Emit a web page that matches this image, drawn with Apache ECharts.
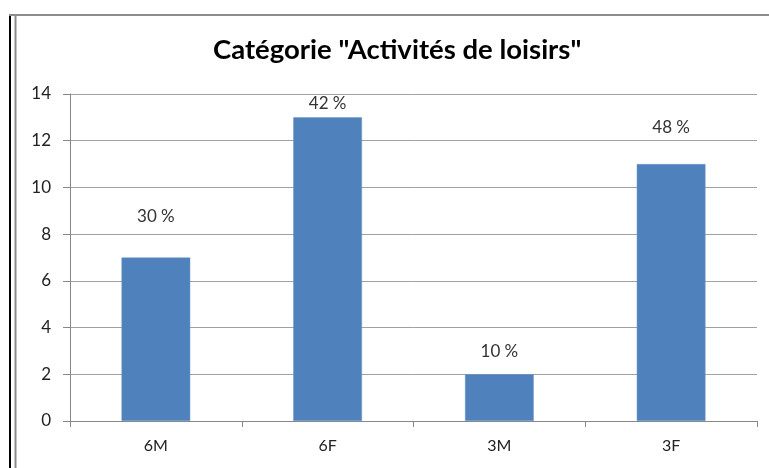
<!DOCTYPE html>
<html>
<head>
<meta charset="utf-8">
<script src="https://cdn.jsdelivr.net/npm/echarts@6/dist/echarts.min.js"></script>
<style>
  html, body { margin: 0; padding: 0; background: #fff; }
  #chart { width: 769px; height: 468px; }
</style>
</head>
<body>
<div id="chart"></div>
<script>
// Groups and number of answers per group
const categories = ['6M', '6F', '3M', '3F'];
const counts = [7, 13, 2, 11];
// Share shown above each bar
const shareLabels = ['30 %', '42 %', '10 %', '48 %'];
// Y axis ticks
const yTicks = [0, 2, 4, 6, 8, 10, 12, 14];

// Gap between each bar top and its label (layout only)
const labelGap = [32, 5, 14, 28];

const FONT = 'Lato, "Open Sans", sans-serif';

const chart = echarts.init(document.getElementById('chart'), null, { renderer: 'canvas' });

chart.setOption({
  animation: false,
  backgroundColor: '#ffffff',
  title: {
    text: 'Catégorie "Activités de loisirs"',
    left: 213,
    top: 36,
    padding: 0,
    textStyle: { fontFamily: FONT, fontWeight: 'bold', fontSize: 27.5, color: '#000' }
  },
  graphic: [
    // frame lines on the left and top
    { type: 'line', shape: { x1: 10, y1: 14, x2: 10, y2: 468 }, style: { stroke: '#000', lineWidth: 2 } },
    { type: 'line', shape: { x1: 15.5, y1: 14, x2: 15.5, y2: 468 }, style: { stroke: '#8c8c8c', lineWidth: 2 } },
    { type: 'line', shape: { x1: 9, y1: 15, x2: 769, y2: 15 }, style: { stroke: '#8c8c8c', lineWidth: 2 } }
  ],
  grid: { left: 70, right: 12, top: 94, bottom: 47, containLabel: false },
  xAxis: {
    type: 'category',
    data: categories,
    boundaryGap: true,
    axisLine: { lineStyle: { color: '#888', width: 1 } },
    axisTick: { show: true, length: 6, lineStyle: { color: '#888' } },
    axisLabel: { fontFamily: FONT, fontSize: 16, color: '#222', margin: 17 }
  },
  yAxis: {
    type: 'value',
    min: yTicks[0],
    max: yTicks[yTicks.length - 1],
    interval: yTicks[1] - yTicks[0],
    axisLine: { show: true, lineStyle: { color: '#888', width: 1 } },
    axisTick: { show: true, length: 7, lineStyle: { color: '#888' } },
    axisLabel: { fontFamily: FONT, fontSize: 17, color: '#222', margin: 19 },
    splitLine: { show: true, lineStyle: { color: '#a0a0a0', width: 1 } }
  },
  series: [{
    type: 'bar',
    barWidth: '40%',
    itemStyle: { color: '#4f81bd', borderColor: '#6f97c8', borderWidth: 0.5 },
    data: counts.map((v, i) => ({
      value: v,
      label: {
        show: true,
        position: 'top',
        distance: labelGap[i],
        formatter: shareLabels[i],
        fontFamily: FONT,
        fontSize: 17,
        color: '#333'
      }
    }))
  }]
});
</script>
</body>
</html>
